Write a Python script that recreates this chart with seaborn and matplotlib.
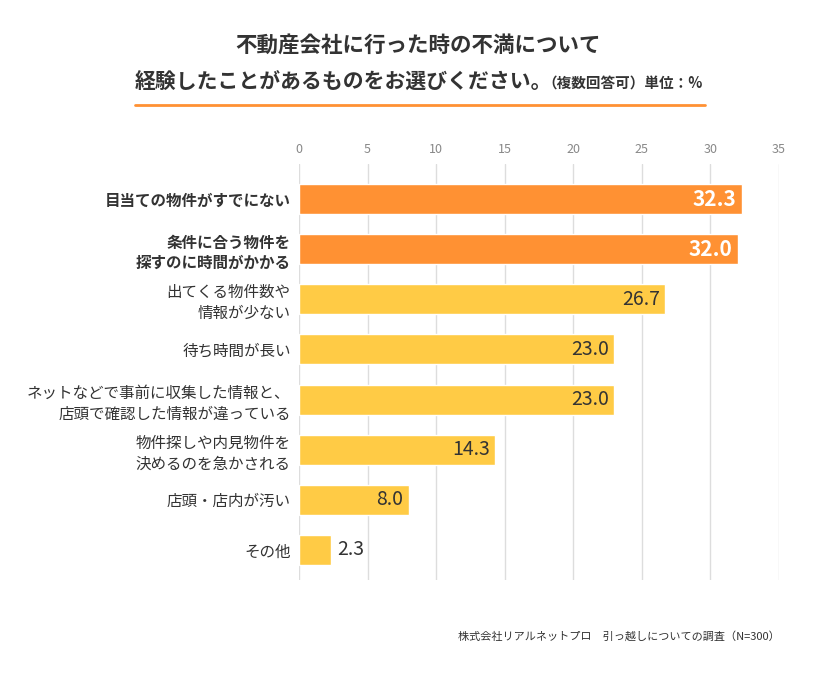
import matplotlib
matplotlib.use("Agg")
import matplotlib.pyplot as plt
import seaborn as sns
import pandas as pd

# --- データ ---
categories = [
    "目当ての物件がすでにない",
    "条件に合う物件を\n探すのに時間がかかる",
    "出てくる物件数や\n情報が少ない",
    "待ち時間が長い",
    "ネットなどで事前に収集した情報と、\n店頭で確認した情報が違っている",
    "物件探しや内見物件を\n決めるのを急かされる",
    "店頭・店内が汚い",
    "その他",
]
values = [32.3, 32.0, 26.7, 23.0, 23.0, 14.3, 8.0, 2.3]
groups = ["top", "top", "other", "other", "other", "other", "other", "other"]
ticks = [0, 5, 10, 15, 20, 25, 30, 35]

sns.set_style("white")
plt.rcParams["font.family"] = ["Noto Sans CJK JP", "DejaVu Sans"]

df = pd.DataFrame({"label": categories, "value": values, "group": groups})
palette = {"top": "#FF9133", "other": "#FFCB45"}

fig = plt.figure(figsize=(8.4, 6.79), dpi=100)
ax = fig.add_axes([299 / 840, 1 - 580 / 679, 480 / 840, (580 - 164) / 679])

sns.barplot(data=df, x="value", y="label", hue="group", palette=palette,
            dodge=False, width=0.6, saturation=1, legend=False, ax=ax, zorder=3)

ax.set_xlim(0, 35)
ax.set_ylim(7.6, -0.7)
ax.set_xticks(ticks)
ax.xaxis.tick_top()
ax.tick_params(axis="x", length=0, labelsize=9, labelcolor="#888888", pad=6)
ax.tick_params(axis="y", length=0, pad=6)
ax.grid(axis="x", color="#dddddd", linewidth=1, zorder=0)
for s in ax.spines.values():
    s.set_visible(False)
ax.set_xlabel("")
ax.set_ylabel("")

for i, lbl in enumerate(ax.get_yticklabels()):
    lbl.set_fontsize(11.2)
    lbl.set_color("#333333")
    lbl.set_linespacing(1.3)
    if groups[i] == "top":
        lbl.set_fontweight("bold")

for i, v in enumerate(values):
    txt = f"{v:.1f}"
    if groups[i] == "top":
        ax.text(v - 0.4, i, txt, ha="right", va="center", color="white",
                fontsize=15, fontweight="bold", zorder=5)
    elif v > 5:
        ax.text(v - 0.4, i, txt, ha="right", va="center", color="#333333",
                fontsize=14, zorder=5)
    else:
        ax.text(v + 0.5, i, txt, ha="left", va="center", color="#333333",
                fontsize=14, zorder=5)

# タイトル
fig.text(418 / 840, 1 - 45 / 679, "不動産会社に行った時の不満について", ha="center", va="center",
         fontsize=15.5, fontweight="bold", color="#333333")
fig.text(135 / 840, 1 - 82 / 679, "経験したことがあるものをお選びください。", ha="left", va="center",
         fontsize=15, fontweight="bold", color="#333333")
fig.text(542 / 840, 1 - 84 / 679, "（複数回答可）単位：%", ha="left", va="center",
         fontsize=10.5, fontweight="bold", color="#333333")
fig.add_artist(plt.Line2D([135 / 840, 705 / 840], [1 - 105 / 679, 1 - 105 / 679],
                          color="#FF9133", linewidth=2))

fig.text(780 / 840, 1 - 636 / 679, "株式会社リアルネットプロ　引っ越しについての調査（N=300）",
         ha="right", va="center", fontsize=8, color="#333333")

fig.savefig("out.png", dpi=100, facecolor="white")
